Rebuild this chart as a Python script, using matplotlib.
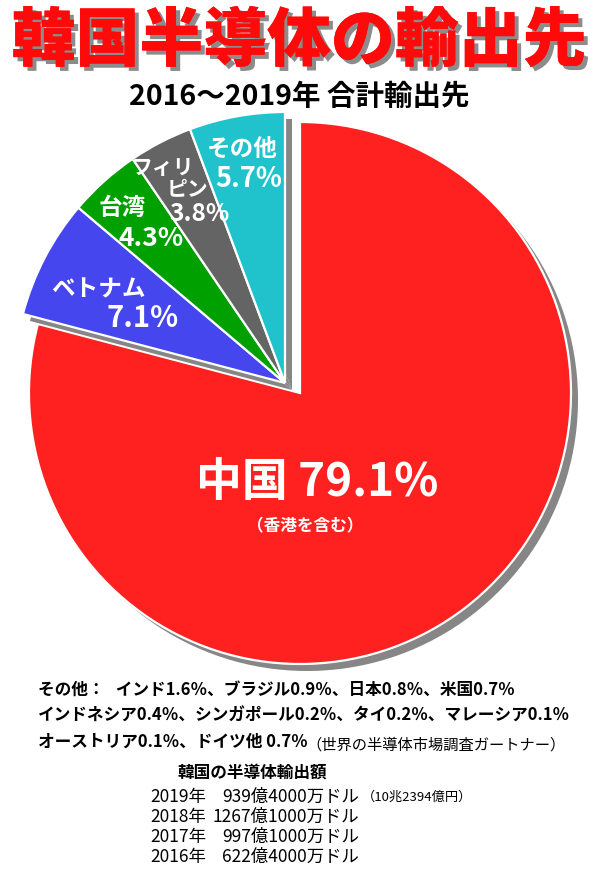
import matplotlib.pyplot as plt
import matplotlib.patheffects as pe

plt.rcParams['font.family'] = ['Noto Sans CJK JP', 'DejaVu Sans']

# datos del grafico
countries = ['中国', 'ベトナム', '台湾', 'フィリピン', 'その他']
shares = [79.1, 7.1, 4.3, 3.8, 5.7]
colors = ['#FF2020', '#4646EE', '#00A000', '#646464', '#20C3CC']

others_lines = [
    'その他：   インド1.6％、ブラジル0.9％、日本0.8％、米国0.7％',
    'インドネシア0.4％、シンガポール0.2％、タイ0.2％、マレーシア0.1％',
    'オーストリア0.1％、ドイツ他 0.7％',
]
source = '（世界の半導体市場調査ガートナー）'

export_years = ['2019年', '2018年', '2017年', '2016年']
export_amounts = ['939億4000万ドル', '1267億1000万ドル', '997億1000万ドル', '622億4000万ドル']
export_note = '（10兆2394億円）'

fig = plt.figure(figsize=(6, 8.71), dpi=100)
ax = fig.add_axes([0, 0, 1, 1])
ax.set_xlim(0, 600)
ax.set_ylim(871, 0)  # coordenadas de pixel, y hacia abajo
ax.set_aspect('equal')
ax.axis('off')

center = (300, 393)
radius = 271
shift = (-15, -10)     # desplazamiento de las porciones pequenas
shadow = (7, 7)

# con el eje y invertido: startangle=-90 y counterclock=True => arriba y sentido horario
kw = dict(startangle=-90, counterclock=True, radius=radius, center=center)

sh_wedges, _ = ax.pie(shares, colors=['#868686'] * len(shares),
                      wedgeprops=dict(linewidth=0), **kw)
wedges, _ = ax.pie(shares, colors=colors,
                   wedgeprops=dict(edgecolor='white', linewidth=1.6), **kw)

for i, w in enumerate(sh_wedges):
    if i == 0:
        w.set_center((center[0] + shadow[0], center[1] + shadow[1]))
    else:
        w.set_center((center[0] + shift[0] + shadow[0], center[1] + shift[1] + shadow[1]))
    w.set_zorder(1)
sh_wedges[0].set_zorder(0.5)
wedges[0].set_zorder(0.8)
for w in wedges[1:]:
    w.set_center((center[0] + shift[0], center[1] + shift[1]))
    w.set_zorder(2)

ax.set_xlim(0, 600)
ax.set_ylim(871, 0)

# etiquetas de porciones
lab = dict(color='white', fontweight='bold', ha='center', va='center', zorder=5)
ax.text(98, 289, countries[1], fontsize=17, **lab)
ax.text(143, 318, f'{shares[1]}%', fontsize=21, **lab)
ax.text(122, 208, countries[2], fontsize=17, **lab)
ax.text(151, 238, f'{shares[2]}%', fontsize=19, **lab)
ax.text(163, 168, 'フィリ', fontsize=15, **lab)
ax.text(188, 190, 'ピン', fontsize=15, **lab)
ax.text(199, 214, f'{shares[3]}%', fontsize=17.5, **lab)
ax.text(242, 149, countries[4], fontsize=17, **lab)
ax.text(249, 179, f'{shares[4]}%', fontsize=19.5, **lab)

ax.text(317, 483, f'{countries[0]} {shares[0]}%', fontsize=33, **lab)
ax.text(305, 526, '（香港を含む）', fontsize=12, **lab)

# titulo con sombra
ax.text(299, 42, '韓国半導体の輸出先', fontsize=46, fontweight='heavy',
        color='#FF0A0A', ha='center', va='center', zorder=7,
        path_effects=[pe.withSimplePatchShadow(offset=(3, -3), shadow_rgbFace='#8C8C8C', alpha=1),
                      pe.Normal()])
ax.text(299, 97, '2016～2019年 合計輸出先', fontsize=20.5, fontweight='bold',
        color='black', ha='center', va='center')

# notas inferiores
for i, line in enumerate(others_lines):
    ax.text(38, 690 + i * 26, line, fontsize=12, fontweight='bold',
            ha='left', va='center')
ax.text(566, 745, source, fontsize=11, ha='right', va='center')

ax.text(252, 773, '韓国の半導体輸出額', fontsize=12, fontweight='bold',
        ha='center', va='center')
for i, (yr, amt) in enumerate(zip(export_years, export_amounts)):
    y = 797 + i * 20
    ax.text(150, y, yr, fontsize=12.5, ha='left', va='center')
    ax.text(359, y, amt, fontsize=12.5, ha='right', va='center')
ax.text(362, 797, export_note, fontsize=9.5, ha='left', va='center')

fig.savefig('out.png', dpi=100)
